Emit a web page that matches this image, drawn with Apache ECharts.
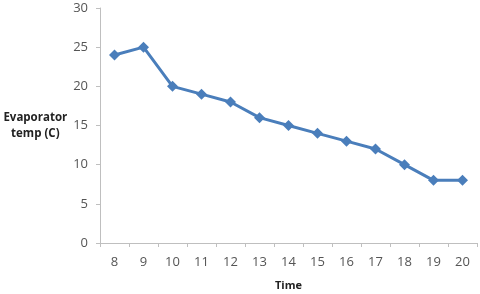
<!DOCTYPE html>
<html><head><meta charset="utf-8">
<script src="https://cdn.jsdelivr.net/npm/echarts@6/dist/echarts.min.js"></script>
<style>html,body{margin:0;padding:0;background:#fff}#c{width:480px;height:294px}</style>
</head><body><div id="c"></div>
<script>
const categories = ['8','9','10','11','12','13','14','15','16','17','18','19','20'];
const evaporatorTemp = [24, 25, 20, 19, 18, 16, 15, 14, 13, 12, 10, 8, 8];
const xTitle = 'Time';
const yTitle = 'Evaporator\ntemp (C)';

const chart = echarts.init(document.getElementById('c'), null, {renderer: 'canvas'});
chart.setOption({
  animation: false,
  backgroundColor: '#fff',
  grid: {left: 100, right: 3, top: 8, bottom: 51, containLabel: false, outerBoundsMode: 'none'},
  xAxis: {
    type: 'category', data: categories, boundaryGap: true,
    name: xTitle, nameLocation: 'middle', nameGap: 37,
    nameTextStyle: {fontFamily: 'Open Sans', fontWeight: 'bold', fontSize: 11, color: '#222'},
    axisLine: {lineStyle: {color: '#bfbfbf', width: 1}},
    axisTick: {show: true, length: 4, lineStyle: {color: '#bfbfbf'}},
    axisLabel: {fontFamily: 'Open Sans', fontSize: 13, color: '#555', margin: 13},
    splitLine: {show: false}
  },
  yAxis: {
    type: 'value', min: 0, max: 30, interval: 5,
    name: yTitle, nameLocation: 'middle', nameRotate: 0, nameGap: 63,
    nameTextStyle: {fontFamily: 'Open Sans', fontWeight: 'bold', fontSize: 11.5, color: '#222', lineHeight: 16, align: 'center', padding: [4, 0, 0, 0]},
    axisLine: {show: true, lineStyle: {color: '#bfbfbf', width: 1}},
    axisTick: {show: true, length: 4, lineStyle: {color: '#bfbfbf'}},
    axisLabel: {fontFamily: 'Open Sans', fontSize: 13, color: '#555', margin: 12},
    splitLine: {show: false}
  },
  series: [{
    type: 'line', data: evaporatorTemp,
    symbol: 'diamond', symbolSize: 11,
    lineStyle: {color: '#4a7ebb', width: 3},
    itemStyle: {color: '#4a7ebb'}
  }]
});
</script></body></html>
